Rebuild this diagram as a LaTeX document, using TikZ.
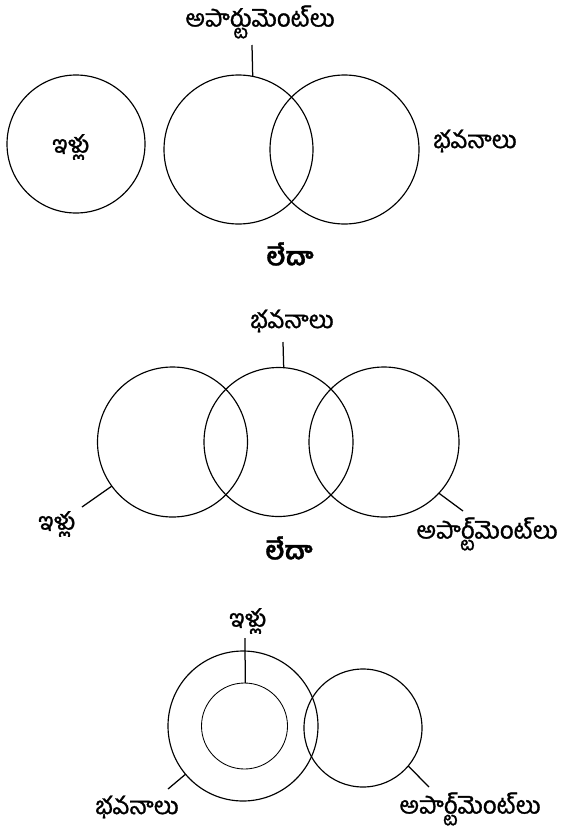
\documentclass[tikz,border=0pt]{standalone}
\usepackage{fontspec}
\newfontfamily\telugu[Script=Telugu,FakeBold=1.2]{Hind Guntur}
\begin{document}
\begin{tikzpicture}[x=1pt,y=-1pt,
  ring/.style={circle,draw,line width=1.15pt,inner sep=0pt,outer sep=0pt,minimum size=#1},
  thinring/.style={circle,draw,line width=0.85pt,inner sep=0pt,outer sep=0pt,minimum size=#1},
  lab/.style={font=\telugu\fontsize{24}{28}\selectfont,inner sep=0pt},
  orlab/.style={font=\telugu\bfseries\fontsize{25}{30}\selectfont,inner sep=0pt},
  lnk/.style={line width=1.25pt}]
\useasboundingbox (0,0) rectangle (562,831);
% ---------- diagram 1 ----------
\node[ring=138pt] (h1) at (76,144) {};
\node[ring=149pt] (a1) at (238.5,149.5) {};
\node[ring=149pt] (b1) at (344.5,149.5) {};
\node[lab] (h1t) at (71,147) {ఇళ్లు};
\node[lab] (b1t) at (475,141) {భవనాలు};
\node[lab] (a1t) at (260,22) {అపార్టుమెంట్‌లు};
\coordinate (a1e) at (252,45);
\draw[lnk] (a1e) -- (a1.79.6);
\node[orlab] (or1) at (290,254) {లేదా};
% ---------- diagram 2 ----------
\node[ring=150pt] (h2) at (172.5,442) {};
\node[ring=149pt] (b2) at (278.5,442) {};
\node[ring=150pt] (a2) at (384,442) {};
\node[lab] (b2t) at (292,321) {భవనాలు};
\coordinate (b2e) at (283,342);
\draw[lnk] (b2e) -- (b2.86.5);
\node[lab] (h2t) at (57,524) {ఇళ్లు};
\coordinate (h2e) at (82,507);
\draw[lnk] (h2e) -- (h2.216);
\node[lab] (a2t) at (487,534) {అపార్ట్‌మెంట్‌లు};
\coordinate (a2e) at (463,511);
\draw[lnk] (a2e) -- (a2.317);
\node[orlab] (or2) at (289,548) {లేదా};
% ---------- diagram 3 ----------
\node[ring=150pt] (b3) at (243,726) {};
\node[thinring=86pt] (h3) at (244.5,726) {};
\node[ring=118pt] (a3) at (363,728) {};
\node[lab] (h3t) at (248,621) {ఇళ్లు};
\coordinate (h3e) at (245,638);
\draw[lnk] (h3e) -- (h3.89);
\node[lab] (b3t) at (137,807) {భవనాలు};
\coordinate (b3e) at (168,789);
\draw[lnk] (b3e) -- (b3.220);
\node[lab] (a3t) at (470,809) {అపార్ట్‌మెంట్‌లు};
\coordinate (a3e) at (429,787);
\draw[lnk] (a3e) -- (a3.320);
\end{tikzpicture}
\end{document}
